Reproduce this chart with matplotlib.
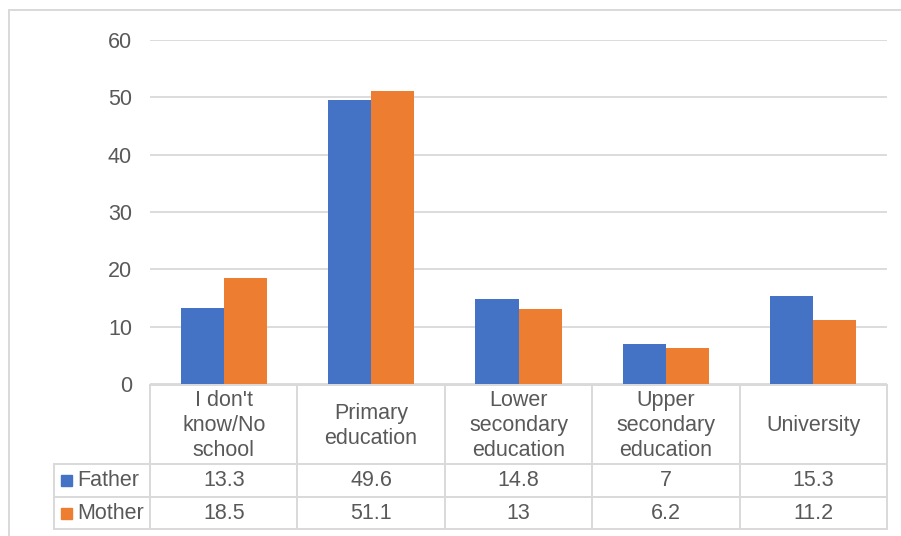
import matplotlib.pyplot as plt
from matplotlib.patches import Rectangle

plt.rcParams['font.family'] = ['Liberation Sans', 'DejaVu Sans']

categories = ["I don't\nknow/No\nschool", "Primary\neducation", "Lower\nsecondary\neducation",
              "Upper\nsecondary\neducation", "University"]
series_names = ["Father", "Mother"]
father = [13.3, 49.6, 14.8, 7, 15.3]
mother = [18.5, 51.1, 13, 6.2, 11.2]
yticks = [0, 10, 20, 30, 40, 50, 60]

colors = ["#4472C4", "#ED7D31"]
text_col = "#595959"
line_col = "#D9D9D9"
fs = 15.5

W, H = 901, 536
fig = plt.figure(figsize=(W / 100, H / 100), dpi=100)

# plot area in pixel coords
x0, x1 = 150, 887
y_top, y_zero = 40, 384
ax = fig.add_axes([x0 / W, (H - y_zero) / H, (x1 - x0) / W, (y_zero - y_top) / H])

n = len(categories)
bw = 0.292
xs = list(range(n))
ax.bar([x - bw / 2 for x in xs], father, width=bw, color=colors[0], zorder=3)
ax.bar([x + bw / 2 for x in xs], mother, width=bw, color=colors[1], zorder=3)
ax.set_xlim(-0.5, n - 0.5)
ax.set_ylim(0, 60)
ax.set_yticks(yticks)
ax.set_yticklabels([str(t) for t in yticks], fontsize=fs, color=text_col)
ax.tick_params(axis='y', length=0, pad=13)
ax.set_xticks([])
ax.grid(axis='y', color=line_col, linewidth=1.3, zorder=0)
for s in ax.spines.values():
    s.set_visible(False)

# overlay for the outer chart frame, in pixel coords
ov = fig.add_axes([0, 0, 1, 1], zorder=-1)
ov.set_xlim(0, W)
ov.set_ylim(H, 0)
ov.axis('off')

lw = 1.4
ov.plot([9, 9], [10, H + 5], color=line_col, lw=lw)
ov.plot([9, W + 5], [10, 10], color=line_col, lw=lw)

col_w = (x1 - x0) / n
cols = [x0 + i * col_w for i in range(n + 1)]
label_left = 54
row_y = [y_zero + 1, 464, 497, 529]

# data table under the bars
tb = fig.add_axes([0, 0, 1, 1], zorder=5)
tb.set_xlim(0, W)
tb.set_ylim(H, 0)
tb.axis('off')
tb.patch.set_alpha(0)

tb.plot([x0, x1], [row_y[0], row_y[0]], color=line_col, lw=lw)
for y in row_y[1:]:
    tb.plot([label_left, x1], [y, y], color=line_col, lw=lw)
for x in cols:
    tb.plot([x, x], [row_y[0], row_y[-1]], color=line_col, lw=lw)
tb.plot([label_left, label_left], [row_y[1], row_y[-1]], color=line_col, lw=lw)

for i, cat in enumerate(categories):
    cx = (cols[i] + cols[i + 1]) / 2
    tb.text(cx, (row_y[0] + row_y[1]) / 2 + 1, cat, ha='center', va='center',
            fontsize=fs, color=text_col, linespacing=1.25)

for r, (name, vals) in enumerate(zip(series_names, [father, mother])):
    cy = (row_y[r + 1] + row_y[r + 2]) / 2
    tb.add_patch(Rectangle((61, cy - 5.5), 11, 11, color=colors[r]))
    tb.text(77, cy + 0.5, name, ha='left', va='center', fontsize=fs, color=text_col)
    for i, v in enumerate(vals):
        cx = (cols[i] + cols[i + 1]) / 2
        tb.text(cx, cy + 0.5, f"{v:g}", ha='center', va='center', fontsize=fs, color=text_col)

fig.savefig("out.png", dpi=100)
